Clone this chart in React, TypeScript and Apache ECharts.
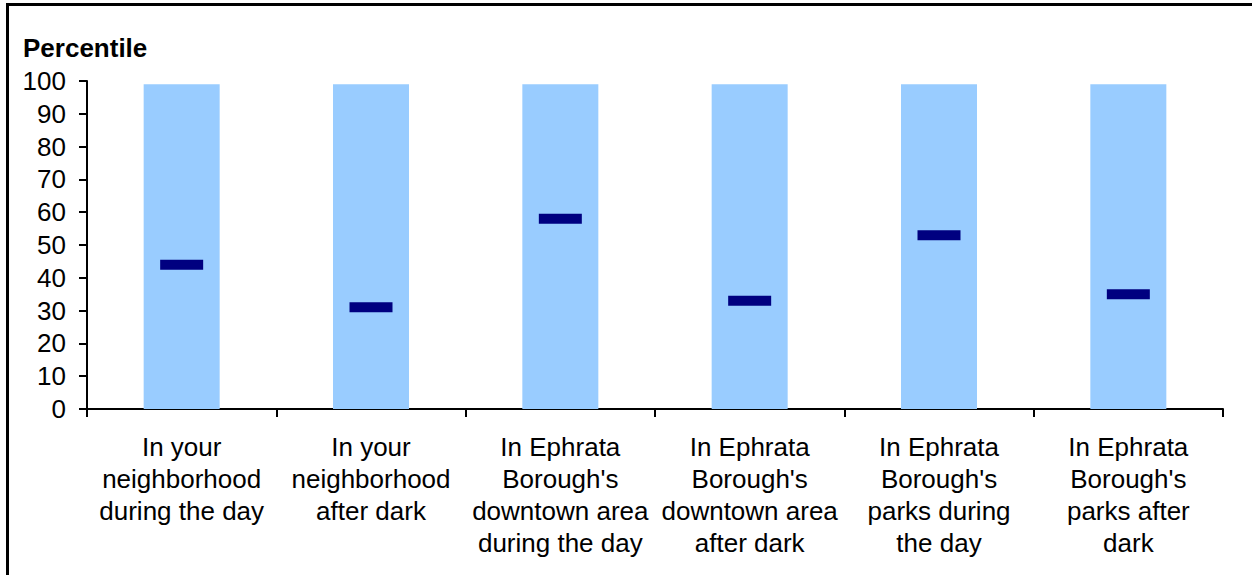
import React, { useEffect, useRef } from "react";
import * as echarts from "echarts";

const categories: string[] = [
  "In your\nneighborhood\nduring the day",
  "In your\nneighborhood\nafter dark",
  "In Ephrata\nBorough's\ndowntown area\nduring the day",
  "In Ephrata\nBorough's\ndowntown area\nafter dark",
  "In Ephrata\nBorough's\nparks during\nthe day",
  "In Ephrata\nBorough's\nparks after\ndark",
];
const rangeValues: number[] = [99, 99, 99, 99, 99, 99];
const percentileValues: number[] = [44, 31, 58, 33, 53, 35];
const yAxisTitle = "Percentile";

export default function App() {
  const ref = useRef<HTMLDivElement>(null);
  useEffect(() => {
    if (!ref.current) return;
    const chart = echarts.init(ref.current, undefined, { renderer: "svg" });
    const font = "'Liberation Sans', Arial, sans-serif";
    chart.setOption({
      animation: false,
      backgroundColor: "#ffffff",
      textStyle: { fontFamily: font },
      grid: { left: 87, top: 81, right: 29, bottom: 166, containLabel: false },
      graphic: [
        {
          type: "rect",
          shape: { x: 7.5, y: 4.5, width: 1300, height: 700 },
          style: { fill: "none", stroke: "#000", lineWidth: 3 },
          silent: true,
        },
        {
          type: "text",
          x: 23,
          y: 48,
          style: {
            text: yAxisTitle,
            font: `bold 26px ${font}`,
            fill: "#000",
            verticalAlign: "middle",
          },
        },
      ],
      xAxis: {
        type: "category",
        data: categories,
        boundaryGap: true,
        axisLine: { lineStyle: { color: "#000", width: 2 } },
        axisTick: { show: true, length: 8, inside: false, lineStyle: { color: "#000", width: 2 } },
        axisLabel: {
          color: "#000",
          fontSize: 26,
          lineHeight: 32,
          margin: 22,
          interval: 0,
          align: "center",
          fontFamily: font,
        },
      },
      yAxis: {
        type: "value",
        min: 0,
        max: 100,
        interval: 10,
        splitLine: { show: false },
        axisLine: { show: true, lineStyle: { color: "#000", width: 2 } },
        axisTick: { show: true, length: 8, lineStyle: { color: "#000", width: 2 } },
        axisLabel: { color: "#000", fontSize: 26, margin: 21, fontFamily: font },
      },
      series: [
        {
          type: "bar",
          data: rangeValues,
          barWidth: 76,
          itemStyle: { color: "#99CCFF" },
          silent: true,
        },
        {
          type: "scatter",
          data: percentileValues,
          symbol: "rect",
          symbolSize: [43, 10],
          itemStyle: { color: "#000080", opacity: 1, borderRadius: 2 },
          z: 5,
        },
      ],
    });
    return () => chart.dispose();
  }, []);
  return (
    <div
      ref={ref}
      style={{ position: "fixed", left: 0, top: 0, width: 1252, height: 575 }}
    />
  );
}
